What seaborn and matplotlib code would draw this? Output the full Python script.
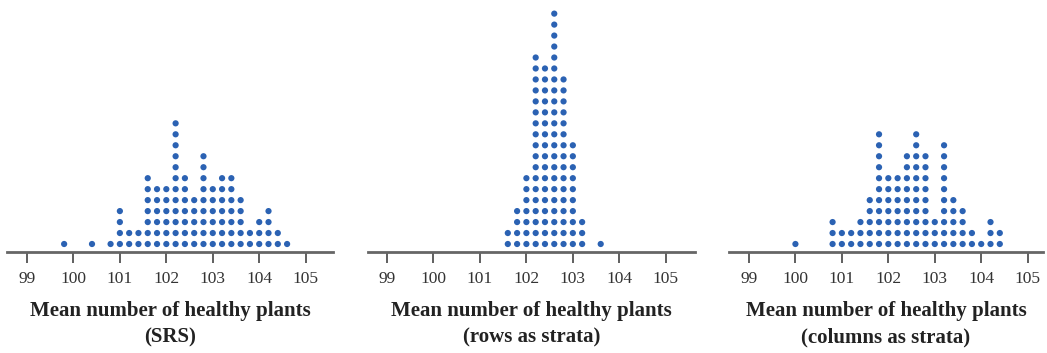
import matplotlib
matplotlib.use("Agg")
import matplotlib.pyplot as plt
import seaborn as sns
import pandas as pd

# dot values (0.2 grid) and how many dots are stacked at each value
srs_values = [99.8, 100.4, 100.8, 101.0, 101.2, 101.4, 101.6, 101.8, 102.0, 102.2, 102.4,
              102.6, 102.8, 103.0, 103.2, 103.4, 103.6, 103.8, 104.0, 104.2, 104.4, 104.6]
srs_counts = [1, 1, 1, 4, 2, 2, 7, 6, 6, 12, 7, 5, 9, 6, 7, 7, 5, 2, 3, 4, 2, 1]

rows_values = [101.6, 101.8, 102.0, 102.2, 102.4, 102.6, 102.8, 103.0, 103.2, 103.6]
rows_counts = [2, 4, 7, 18, 17, 22, 16, 10, 3, 1]

cols_values = [100.0, 100.8, 101.0, 101.2, 101.4, 101.6, 101.8, 102.0, 102.2, 102.4,
               102.6, 102.8, 103.0, 103.2, 103.4, 103.6, 103.8, 104.0, 104.2, 104.4]
cols_counts = [1, 3, 2, 2, 3, 5, 11, 7, 7, 9, 11, 9, 3, 10, 5, 4, 2, 1, 3, 2]

tick_values = [99, 100, 101, 102, 103, 104, 105]
xlabels = ["Mean number of healthy plants\n(SRS)",
           "Mean number of healthy plants\n(rows as strata)",
           "Mean number of healthy plants\n(columns as strata)"]


def stack_dots(values, counts):
    rows = []
    for v, c in zip(values, counts):
        for k in range(c):
            rows.append({"value": v, "level": k + 1})
    return pd.DataFrame(rows)


sns.set_style("white")
serif = ["Liberation Serif", "DejaVu Serif"]

fig = plt.figure(figsize=(10.47, 3.53), dpi=100)
W, H = 1047, 353
bottom = (H - 252) / H
height = 247 / H
row_px = 10.97
ylo = 1 - 8 / row_px
yhi = ylo + 247 / row_px

panels = [
    (srs_values, srs_counts, 7, 326, 98.57),
    (rows_values, rows_counts, 368, 327, 98.59),
    (cols_values, cols_counts, 729, 314, 98.57),
]

for (vals, cnts, left_px, width_px, xmin), label in zip(panels, xlabels):
    ax = fig.add_axes([left_px / W, bottom, width_px / W, height])
    df = stack_dots(vals, cnts)
    sns.scatterplot(data=df, x="value", y="level", ax=ax, s=20, color="#2b62b3",
                    edgecolor="none", legend=False)
    ax.set_xlim(xmin, xmin + width_px / 46.45)
    ax.set_ylim(ylo, yhi)
    for side in ["top", "left", "right"]:
        ax.spines[side].set_visible(False)
    ax.spines["bottom"].set_color("#666666")
    ax.spines["bottom"].set_linewidth(2.0)
    ax.set_yticks([])
    ax.set_ylabel("")
    ax.set_xticks(tick_values)
    ax.set_xticklabels([str(t) for t in tick_values], family=serif, fontsize=12.5,
                       color="#333333")
    ax.tick_params(axis="x", direction="out", length=8, width=1.2, color="#444444",
                   pad=6, bottom=True)
    ax.set_xlabel(label, family=serif, fontweight="bold", fontsize=15,
                  color="#222222", labelpad=10, linespacing=1.4)

fig.savefig("out.png", dpi=100)
